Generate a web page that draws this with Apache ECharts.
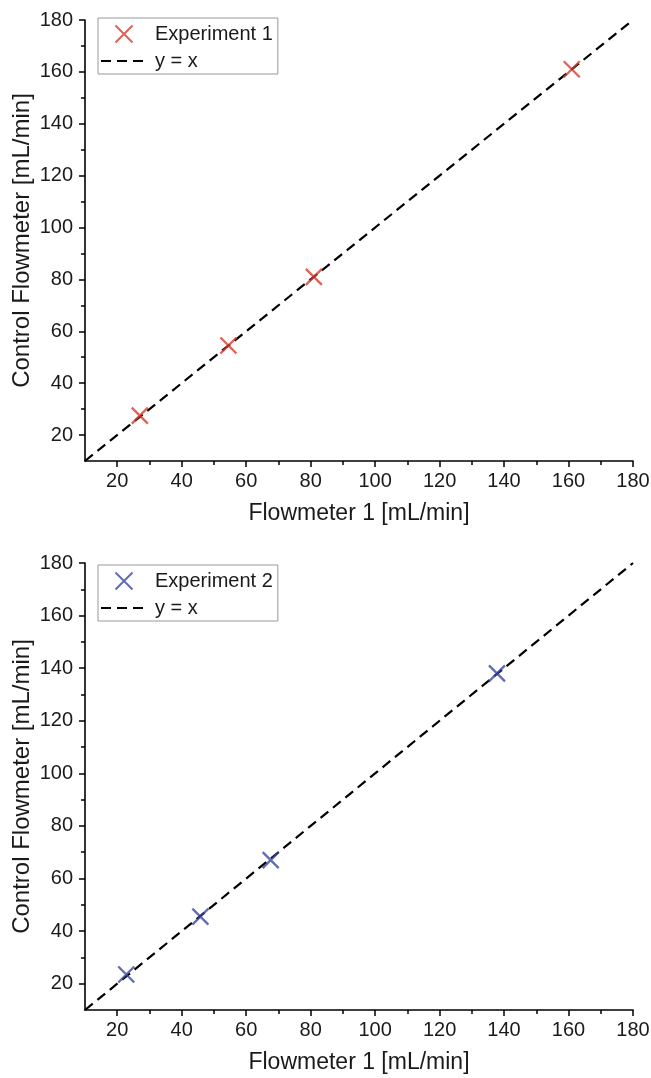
<!DOCTYPE html>
<html>
<head>
<meta charset="utf-8">
<script src="https://cdn.jsdelivr.net/npm/echarts@6/dist/echarts.min.js"></script>
<style>
  html, body { margin: 0; padding: 0; background: #fff; }
  #main { width: 651px; height: 1078px; }
</style>
</head>
<body>
<div id="main"></div>
<script>
// 数据
const exp1X = [27, 54.5, 81, 161];
const exp1Y = [27.5, 54.5, 81, 161];
const exp2X = [22.8, 45.8, 67.6, 137.8];
const exp2Y = [23.5, 45.5, 67, 138];
const identityLine = [10, 180];
const majorTicks = [20, 40, 60, 80, 100, 120, 140, 160, 180];
const minorTicks = [30, 50, 70, 90, 110, 130, 150, 170];
const axisMin = 10;
const axisMax = 180;

const xTitle = 'Flowmeter 1 [mL/min]';
const yTitle = 'Control Flowmeter [mL/min]';
const FONT = 'Liberation Sans, Arial, sans-serif';
const CROSS = 'path://M0,0L10,10M10,0L0,10';

function pairs(xs, ys) {
    return xs.map((x, i) => [x, ys[i]]);
}

function majorAxis(gridIndex, isX) {
    return {
        type: 'value',
        gridIndex: gridIndex,
        min: axisMin,
        max: axisMax,
        position: isX ? 'bottom' : 'left',
        name: isX ? xTitle : yTitle,
        nameLocation: 'middle',
        nameGap: isX ? 41 : 51,
        nameMoveOverlap: false,
        nameTextStyle: { color: '#1a1a1a', fontSize: isX ? 23 : 24, fontFamily: FONT },
        axisLine: { show: true, onZero: false, lineStyle: { color: '#000', width: 1.6 } },
        axisTick: { show: true, inside: false, length: 6, customValues: majorTicks, lineStyle: { color: '#000', width: 1.5 } },
        axisLabel: { show: true, customValues: majorTicks, color: '#1a1a1a', fontSize: 20, fontFamily: FONT, margin: isX ? 10 : 12 },
        splitLine: { show: false }
    };
}

function minorAxis(gridIndex, isX) {
    return {
        type: 'value',
        gridIndex: gridIndex,
        min: axisMin,
        max: axisMax,
        position: isX ? 'bottom' : 'left',
        axisLine: { show: false, onZero: false },
        axisTick: { show: true, inside: false, length: 4, customValues: minorTicks, lineStyle: { color: '#000', width: 1.5 } },
        axisLabel: { show: false },
        splitLine: { show: false }
    };
}

function legendFor(name, top) {
    return {
        orient: 'vertical',
        left: 98,
        top: top,
        data: [name, { name: 'y = x', itemStyle: { opacity: 0 } }],
        backgroundColor: '#fff',
        borderColor: '#999',
        borderWidth: 1,
        padding: [6, 5, 3, 2],
        itemGap: 7,
        itemWidth: 46,
        itemHeight: 17,
        selectedMode: false,
        textStyle: { color: '#1a1a1a', fontSize: 20, fontFamily: FONT, padding: [0, 0, 0, 3] }
    };
}

function crossSeries(name, xs, ys, color, axisIdx) {
    return {
        name: name,
        type: 'scatter',
        xAxisIndex: axisIdx,
        yAxisIndex: axisIdx,
        data: pairs(xs, ys),
        symbol: CROSS,
        symbolSize: 16,
        itemStyle: { color: color, borderColor: color, borderWidth: 2.3 },
        z: 5
    };
}

function lineSeries(axisIdx) {
    return {
        name: 'y = x',
        type: 'line',
        xAxisIndex: axisIdx,
        yAxisIndex: axisIdx,
        data: pairs(identityLine, identityLine),
        symbol: 'none',
        lineStyle: { color: '#000', width: 2.2, type: [10, 6] },
        itemStyle: { color: '#000' },
        z: 3
    };
}

const chart = echarts.init(document.getElementById('main'));

const option = {
    backgroundColor: '#fff',
    animation: false,
    textStyle: { fontFamily: FONT },
    grid: [
        { left: 85, right: 18, top: 20, height: 441, outerBoundsMode: 'none', containLabel: false },
        { left: 85, right: 18, top: 563, height: 447, outerBoundsMode: 'none', containLabel: false }
    ],
    xAxis: [majorAxis(0, true), minorAxis(0, true), majorAxis(1, true), minorAxis(1, true)],
    yAxis: [majorAxis(0, false), minorAxis(0, false), majorAxis(1, false), minorAxis(1, false)],
    legend: [legendFor('Experiment 1', 18), legendFor('Experiment 2', 565)],
    series: [
        lineSeries(0),
        crossSeries('Experiment 1', exp1X, exp1Y, '#d8392b', 0),
        lineSeries(2),
        crossSeries('Experiment 2', exp2X, exp2Y, '#3a47a8', 2)
    ]
};

chart.setOption(option);

window.addEventListener('resize', () => {
    chart.resize();
});
</script>
</body>
</html>
